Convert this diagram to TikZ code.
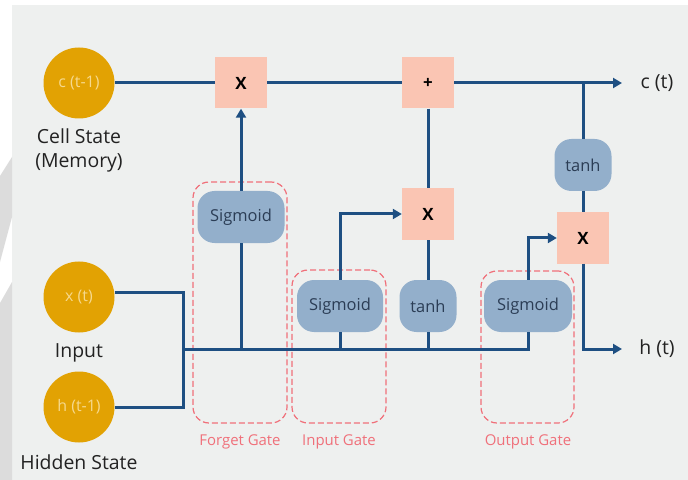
\documentclass[tikz,border=0pt]{standalone}
\usepackage{fontspec}
\setmainfont{Open Sans}
\usetikzlibrary{arrows.meta}
\definecolor{bg}{HTML}{EEF0EF}
\definecolor{strip}{HTML}{DCDCDC}
\definecolor{gold}{HTML}{E2A203}
\definecolor{goldtxt}{HTML}{F6D98E}
\definecolor{navy}{HTML}{1E4F82}
\definecolor{salmon}{HTML}{FAC5B3}
\definecolor{act}{HTML}{93AFCB}
\definecolor{acttxt}{HTML}{2B3D55}
\definecolor{gate}{HTML}{F0707A}
\definecolor{ink}{HTML}{222222}
\tikzset{
  state/.style={circle, fill=gold, minimum size=71bp, inner sep=0pt, text=goldtxt, font=\fontsize{16}{18}\selectfont},
  opbox/.style={fill=salmon, minimum width=52bp, minimum height=51bp, inner sep=0pt, text=black, font=\bfseries\fontsize{17}{19}\selectfont},
  actbox/.style={fill=act, rounded corners=17bp, minimum height=52bp, inner sep=0pt, text=acttxt, font=\fontsize{16.5}{19}\selectfont},
  gatebox/.style={draw=gate, dash pattern=on 6bp off 3bp, rounded corners=16bp, line width=1.2bp, inner sep=0pt},
  wire/.style={draw=navy, line width=3bp},
  arr/.style={wire, -{Triangle[length=9bp,width=10bp]}},
  lbl/.style={text=ink, font=\fontsize{19.5}{24}\selectfont},
  gatelbl/.style={text=gate, font=\fontsize{15}{17}\selectfont}
}
\begin{document}
\begin{tikzpicture}[x=1bp, y=-1bp]
\useasboundingbox (0,0) rectangle (688,480);
% background
\fill[white] (0,0) rectangle (688,480);
\fill[bg] (12,5) rectangle (688,480);
\fill[strip] (12,157) -- (12,217) -- (0,262) -- (0,176) -- cycle;
\fill[strip] (12,282) -- (12,480) -- (0,480) -- (0,303) -- cycle;
% gate boxes
\node[gatebox, minimum width=94bp, minimum height=241bp] (fg) at (240,302.5) {};
\node[gatebox, minimum width=94bp, minimum height=153bp] (ig) at (339,346.5) {};
\node[gatebox, minimum width=93bp, minimum height=152bp] (og) at (527.5,347) {};
\node[gatelbl] (fgl) at (240,442) {Forget Gate};
\node[gatelbl] (igl) at (339,442) {Input Gate};
\node[gatelbl] (ogl) at (528,442) {Output Gate};
% states
\node[state] (c0) at (79,83) {c (t-1)};
\node[state] (xt) at (79,297) {x (t)};
\node[state] (h0) at (79,407) {h (t-1)};
\node[lbl, align=center] (cslbl) at (79,150) {Cell State\\(Memory)};
\node[lbl] (inlbl) at (79,353) {Input};
\node[lbl] (hslbl) at (79,462) {Hidden State};
% operations
\node[opbox] (m1) at (241,83) {X};
\node[opbox] (add) at (428,83) {+};
\node[opbox] (m2) at (428,214) {X};
\node[opbox] (m3) at (583,238) {X};
% activations
\node[actbox, minimum width=87bp] (sf) at (241,217) {Sigmoid};
\node[actbox, minimum width=86bp] (si) at (340,306) {Sigmoid};
\node[actbox, minimum width=57bp] (ti) at (428,306) {tanh};
\node[actbox, minimum width=88bp] (so) at (528,306) {Sigmoid};
\node[actbox, minimum width=57bp] (tc) at (583,165) {tanh};
% outputs
\coordinate (ct) at (622,83);
\coordinate (ht) at (622,349);
\node[lbl] (ctl) at (657,83) {c (t)};
\node[lbl] (htl) at (657,349) {h (t)};
% junctions
\coordinate (br) at (583,83);
\coordinate (j) at (183,349);
\coordinate (xj) at (183,292);
\coordinate (hj) at (183,407);
% wires
\draw[wire] (c0) -- (m1);
\draw[wire] (m1) -- (add);
\draw[arr] (add) -- (ct);
\draw[wire] (br) -- (tc.north);
\draw[wire] (tc.south) -- (m3.north);
\draw[wire] (add.south) -- (m2.north);
\draw[arr] (sf.north) -- (m1.south);
\draw[wire] (xt.east |- xj) -- (xj) -- (hj) -- (h0.east |- hj);
\draw[wire] (j) -- (so.south |- j) -- (so.south);
\draw[wire] (sf.south) -- (sf.south |- j);
\draw[wire] (si.south) -- (si.south |- j);
\draw[wire] (ti.south) -- (ti.south |- j);
\draw[arr] (si.north) |- (m2.west);
\draw[wire] (ti.north) -- (m2.south);
\draw[arr] (so.north) |- (m3.west);
\draw[arr] (m3.south) |- (ht);
\end{tikzpicture}
\end{document}
